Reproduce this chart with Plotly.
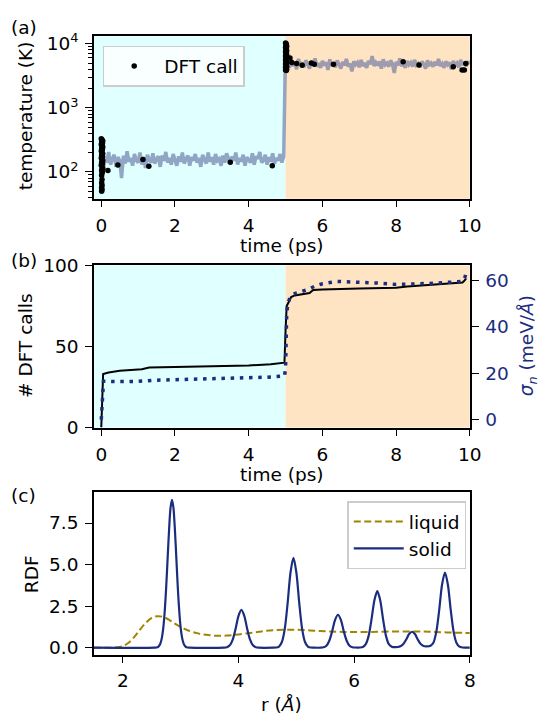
import numpy as np
import plotly.graph_objects as go

# ---------------- data ----------------
# (a) temperature trace, sampled every 0.05 ps
temp_cold = [310, 95, 175, 140, 205, 130, 160, 185, 120, 170,
             150, 80, 180, 135, 210, 145, 165, 125, 190, 150,
             140, 200, 130, 170, 115, 185, 155, 140, 195, 135,
             160, 175, 120, 180, 150, 205, 140, 165, 130, 190,
             155, 125, 175, 145, 200, 135, 160, 180, 125, 170,
             150, 190, 140, 165, 120, 185, 155, 135, 200, 145,
             170, 130, 190, 150, 160, 125, 180, 140, 195, 155,
             135, 175, 150, 200, 130, 165, 145, 185, 125, 170,
             155, 140, 195, 130, 175, 160, 205, 140, 150, 185,
             130, 170, 145, 195, 135, 165, 150, 190, 140, 175]
temp_hot = [9500, 7000, 4200, 5600, 4500, 5200, 4000, 5800, 4600, 5100,
            4300, 5500, 4800, 4100, 5300, 4700, 5900, 4400, 5000, 4200,
            5400, 4600, 5100, 3900, 5700, 4500, 5000, 4300, 5500, 4800,
            4100, 5200, 4600, 5800, 4400, 4900, 3700, 5300, 4700, 5100,
            4300, 5600, 4500, 5000, 4200, 5400, 4800, 6400, 4500, 5100,
            4600, 5300, 4100, 5700, 4700, 5000, 4400, 5500, 4800, 3500,
            5200, 4600, 5900, 4500, 5000, 4200, 5400, 4700, 5100, 4400,
            5600, 4600, 4900, 4300, 5300, 4800, 4100, 5500, 4700, 5000,
            4400, 5200, 4600, 5800, 4500, 4900, 4200, 5300, 4700, 5100,
            4000, 5400, 4600, 5000, 4300, 5600, 4700, 5200, 4500, 5300, 4800]
temperature = temp_cold + temp_hot
time_temp = list(np.arange(len(temperature)) * 0.05)

# (a) DFT calls (time in ps, temperature in K)
dft_time = [0.00, 0.02, 0.04, 0.01, 0.03, 0.00, 0.02, 0.04, 0.01, 0.03,
            0.00, 0.02, 0.04, 0.01, 0.03, 0.00, 0.02, 0.04, 0.01, 0.03,
            0.00, 0.02, 0.04, 0.01, 0.03, 0.02, 0.01, 0.02, 0.01, 0.02,
            0.01, 0.02, 0.01,
            0.18, 0.45, 1.13, 1.29, 3.50, 4.64,
            5.00, 5.02, 5.01, 5.03, 5.00, 5.02, 5.01, 5.03, 5.00, 5.02,
            5.01, 5.03, 5.00, 5.02, 5.01, 5.03, 5.00, 5.02, 5.01, 5.03,
            5.00, 5.02, 5.01, 5.03, 5.00, 5.02, 5.01, 5.03, 5.00, 5.02,
            5.12, 5.17, 5.30, 5.45, 5.70, 5.78, 6.30,
            8.19, 8.62, 9.55, 9.79, 9.85, 9.89]
dft_temp = [330, 318, 305, 292, 280, 268, 256, 245, 234, 223,
            212, 202, 192, 183, 174, 165, 157, 149, 141, 134,
            127, 120, 113, 107, 101, 96, 88, 76, 68, 62,
            57, 53, 50,
            105, 128, 156, 123, 141, 125,
            10300, 9900, 9500, 9100, 8700, 8400, 8100, 7800, 7500, 7200,
            6950, 6700, 6450, 6200, 6000, 5800, 5600, 5400, 5200, 5000,
            4850, 4700, 4550, 4400, 4300, 4200, 4100, 4000, 3900, 3820,
            6000, 5100, 4900, 4600, 5000, 4800, 4800,
            5220, 4640, 4390, 3890, 3890, 4920]

# (b) cumulative number of DFT calls
calls_time = [0, 0.02, 0.05, 0.2, 0.5, 1.1, 1.3, 2.0, 3.0, 4.0, 4.6, 4.97,
              5.0, 5.03, 5.1, 5.15, 5.25, 5.5, 5.65, 5.75, 6.0, 7.0, 8.0,
              8.3, 9.0, 9.5, 9.8, 9.85, 9.9]
calls_count = [0, 10, 33, 34, 35, 36, 37, 37.3, 37.7, 38.3, 39, 40,
               60, 75, 78, 80.5, 81.5, 82.5, 83, 84.8, 85.2, 85.7, 86.3,
               87, 88, 88.7, 89.5, 90.5, 92]

# (b) sigma_n (meV/A)
sigma_time = [0, 0.03, 0.06, 0.5, 1.0, 1.5, 2.5, 3.5, 4.5, 4.97, 5.0, 5.03,
              5.06, 5.12, 5.2, 5.4, 5.6, 5.8, 6.0, 6.4, 7.0, 7.5, 8.0, 8.5,
              9.0, 9.5, 9.8, 9.87, 9.9]
sigma_n = [0, 8, 16.5, 16.4, 16.5, 17.0, 17.4, 17.8, 18.3, 18.8, 22, 45,
           50, 52.5, 54, 55, 56, 57.5, 58.5, 59.5, 59.3, 58.8, 58.2, 58.3,
           58.7, 59.2, 59.5, 61.5, 63.3]

# (c) RDF
r_liquid = [1.5, 1.8, 1.9, 2.0, 2.1, 2.2, 2.3, 2.4, 2.5, 2.6, 2.7, 2.8, 2.9,
            3.0, 3.1, 3.2, 3.3, 3.4, 3.5, 3.6, 3.7, 3.8, 3.9, 4.0, 4.2, 4.4,
            4.6, 4.8, 5.0, 5.2, 5.4, 5.6, 5.8, 6.0, 6.3, 6.6, 7.0, 7.3, 7.6, 8.0]
g_liquid = [0, 0.0, 0.02, 0.1, 0.3, 0.65, 1.1, 1.5, 1.8, 1.89, 1.85, 1.68, 1.45,
            1.25, 1.08, 0.95, 0.86, 0.79, 0.75, 0.72, 0.72, 0.73, 0.76, 0.8, 0.88, 0.98,
            1.05, 1.08, 1.08, 1.05, 1.0, 0.97, 0.95, 0.94, 0.95, 0.97, 0.98, 0.96, 0.92, 0.88]

r_solid = [1.5, 2.55, 2.6, 2.625, 2.65, 2.675, 2.7, 2.725, 2.75, 2.775, 2.8, 2.825,
           2.85, 2.875, 2.9, 2.925, 2.95, 2.975, 3.0, 3.025, 3.05, 3.075, 3.1, 3.15,
           3.75, 3.8, 3.85, 3.9, 3.95, 4.0, 4.05, 4.1, 4.15, 4.2, 4.25, 4.3, 4.35,
           4.6, 4.65, 4.7, 4.75, 4.8, 4.85, 4.9, 4.95, 5.0, 5.05, 5.1, 5.15, 5.2, 5.25, 5.3,
           5.42, 5.47, 5.52, 5.57, 5.62, 5.67, 5.72, 5.77, 5.82, 5.87, 5.92, 5.97, 6.02,
           6.1, 6.15, 6.2, 6.25, 6.3, 6.35, 6.4, 6.45, 6.5, 6.55, 6.6, 6.65, 6.7,
           6.75, 6.8, 6.85, 6.9, 6.95, 7.0, 7.05, 7.1, 7.15, 7.2, 7.25,
           7.32, 7.37, 7.42, 7.47, 7.52, 7.57, 7.62, 7.67, 7.72, 7.77, 7.82, 7.87, 7.92, 8.0]
g_solid = [0, 0, 0.02, 0.10, 0.26, 0.59, 1.20, 2.22, 3.65, 5.40, 7.12, 8.42,
           8.9, 8.42, 7.12, 5.40, 3.65, 2.22, 1.20, 0.59, 0.26, 0.10, 0.03, 0,
           0, 0.03, 0.14, 0.48, 1.14, 1.92, 2.28, 1.92, 1.14, 0.48, 0.14, 0.03, 0,
           0, 0.01, 0.07, 0.34, 1.13, 2.70, 4.54, 5.4, 4.54, 2.70, 1.13, 0.34, 0.07, 0.01, 0,
           0, 0.03, 0.12, 0.42, 0.99, 1.67, 1.98, 1.67, 0.99, 0.42, 0.12, 0.03, 0.01,
           0.01, 0.04, 0.21, 0.71, 1.70, 2.86, 3.4, 2.86, 1.70, 0.71, 0.21, 0.06, 0.03,
           0.04, 0.08, 0.22, 0.49, 0.82, 0.96, 0.82, 0.49, 0.22, 0.1, 0.08,
           0.12, 0.30, 0.95, 2.26, 3.80, 4.52, 3.80, 2.26, 0.95, 0.28, 0.06, 0.01, 0, 0]

x_ticks_time = [0, 2, 4, 6, 8, 10]
temp_ticks = [100, 1000, 10000]
temp_ticktext = ["10<sup>2</sup>", "10<sup>3</sup>", "10<sup>4</sup>"]
temp_minor = [m * 10 ** e for e in range(1, 5) for m in range(2, 10)]
calls_ticks = [0, 50, 100]
sigma_ticks = [0, 20, 40, 60]
r_ticks = [2, 4, 6, 8]
rdf_ticks = [0, 2.5, 5.0, 7.5]
rdf_ticktext = ["0.0", "2.5", "5.0", "7.5"]

# ---------------- style ----------------
W, H = 551, 725
def px(x): return x / W
def py(y): return 1 - y / H

NAVY = "#1b2d7f"
OLIVE = "#a08600"
CYAN = "#E0FFFF"
BISQUE = "#FFE4C4"
FONT = "DejaVu Sans"
FS = 18.5

xdom = [px(96), px(480.3)]
dom_a = [py(193.3), py(26)]
dom_b = [py(429), py(262)]
dom_c = [py(662.7), py(495.7)]

fig = go.Figure()

for xr, yr in [("x", "y domain"), ("x2", "y2 domain")]:
    fig.add_shape(type="rect", xref=xr, yref=yr, x0=-0.2, x1=5, y0=0, y1=1,
                  fillcolor=CYAN, line_width=0, layer="below")
    fig.add_shape(type="rect", xref=xr, yref=yr, x0=5, x1=10, y0=0, y1=1,
                  fillcolor=BISQUE, line_width=0, layer="below")

fig.add_trace(go.Scatter(x=time_temp, y=temperature, mode="lines",
                         line=dict(color="rgba(91,106,158,0.6)", width=3.5),
                         xaxis="x", yaxis="y", showlegend=False, hoverinfo="skip"))
fig.add_trace(go.Scatter(x=dft_time, y=dft_temp, mode="markers", name="DFT call",
                         marker=dict(color="black", size=5.5),
                         xaxis="x", yaxis="y", legend="legend"))

fig.add_trace(go.Scatter(x=calls_time, y=calls_count, mode="lines",
                         line=dict(color="black", width=2),
                         xaxis="x2", yaxis="y2", showlegend=False))
fig.add_trace(go.Scatter(x=sigma_time, y=sigma_n, mode="lines",
                         line=dict(color=NAVY, width=3.5, dash="3.5px,5.7px"),
                         xaxis="x2", yaxis="y3", showlegend=False))

fig.add_trace(go.Scatter(x=r_liquid, y=g_liquid, mode="lines", name="liquid",
                         line=dict(color=OLIVE, width=2, dash="7px,3.5px", shape="spline"),
                         xaxis="x3", yaxis="y4", legend="legend2"))
fig.add_trace(go.Scatter(x=r_solid, y=g_solid, mode="lines", name="solid",
                         line=dict(color=NAVY, width=2.2, shape="spline", smoothing=0.8),
                         xaxis="x3", yaxis="y4", legend="legend2"))

axis_common = dict(showline=True, linecolor="black", linewidth=1.5, mirror=True,
                   ticks="outside", ticklen=7, tickwidth=1.2, tickcolor="black",
                   showgrid=False, zeroline=False,
                   tickfont=dict(family=FONT, size=FS, color="black"))

legend_common = dict(bgcolor="rgba(255,255,255,0.8)", bordercolor="#cccccc", borderwidth=1.5,
                     font=dict(family=FONT, size=FS, color="black"),
                     xanchor="left", yanchor="top", itemwidth=50)

fig.update_layout(
    width=W, height=H, margin=dict(l=0, r=0, t=0, b=0),
    paper_bgcolor="white", plot_bgcolor="white",
    font=dict(family=FONT, size=FS, color="black"),
    xaxis=dict(domain=xdom, anchor="y", range=[-0.2, 10], tickvals=x_ticks_time,
               ticklabelstandoff=2, **axis_common),
    yaxis=dict(domain=dom_a, anchor="x", type="log", range=[1.582, 4.117],
               tickvals=temp_ticks, ticktext=temp_ticktext, ticklabelstandoff=3,
               minor=dict(tickvals=temp_minor, ticks="outside", ticklen=4, tickwidth=1, tickcolor="black"),
               **axis_common),
    xaxis2=dict(domain=xdom, anchor="y2", range=[-0.2, 10], tickvals=x_ticks_time,
                ticklabelstandoff=2, **axis_common),
    yaxis2=dict(domain=dom_b, anchor="x2", range=[0, 100], tickvals=calls_ticks,
                ticklabelstandoff=3, **axis_common),
    yaxis3=dict(overlaying="y2", side="right", anchor="x2", range=[-3.4, 66.4],
                tickvals=sigma_ticks, showline=True, linecolor="black", linewidth=1.5,
                ticks="outside", ticklen=7, tickwidth=1.2, tickcolor="black",
                showgrid=False, zeroline=False, ticklabelstandoff=3,
                tickfont=dict(family=FONT, size=FS, color=NAVY)),
    xaxis3=dict(domain=xdom, anchor="y4", range=[1.5, 8], tickvals=r_ticks,
                ticklabelstandoff=2, **axis_common),
    yaxis4=dict(domain=dom_c, anchor="x3", range=[-0.41, 9.345], tickvals=rdf_ticks,
                ticktext=rdf_ticktext, ticklabelstandoff=3, **axis_common),
    legend=dict(x=px(105), y=py(36), **legend_common),
    legend2=dict(x=px(355), y=py(505), **legend_common),
)

ann = [
    dict(text="(a)", x=px(9), y=py(17), xanchor="left"),
    dict(text="(b)", x=px(9), y=py(256.7), xanchor="left"),
    dict(text="(c)", x=px(9), y=py(499), xanchor="left"),
    dict(text="temperature (K)", x=px(26), y=py(108), textangle=-90),
    dict(text="time (ps)", x=px(288), y=py(242)),
    dict(text="# DFT calls", x=px(26), y=py(344.5), textangle=-90),
    dict(text="time (ps)", x=px(288), y=py(477)),
    dict(text="<i>σ</i><sub><i>n</i></sub> (meV/<i>Å</i>)", x=px(540), y=py(345),
         textangle=-90, font=dict(family=FONT, size=FS, color=NAVY)),
    dict(text="RDF", x=px(31.7), y=py(580), textangle=-90),
    dict(text="r (<i>Å</i>)", x=px(288), y=py(714)),
]
for a in ann:
    a.setdefault("xanchor", "center")
    a.setdefault("font", dict(family=FONT, size=FS, color="black"))
    fig.add_annotation(xref="paper", yref="paper", yanchor="middle", showarrow=False, **a)

fig.write_html("out.html", config={"displayModeBar": False},
               post_script="document.body.style.margin='0';")
